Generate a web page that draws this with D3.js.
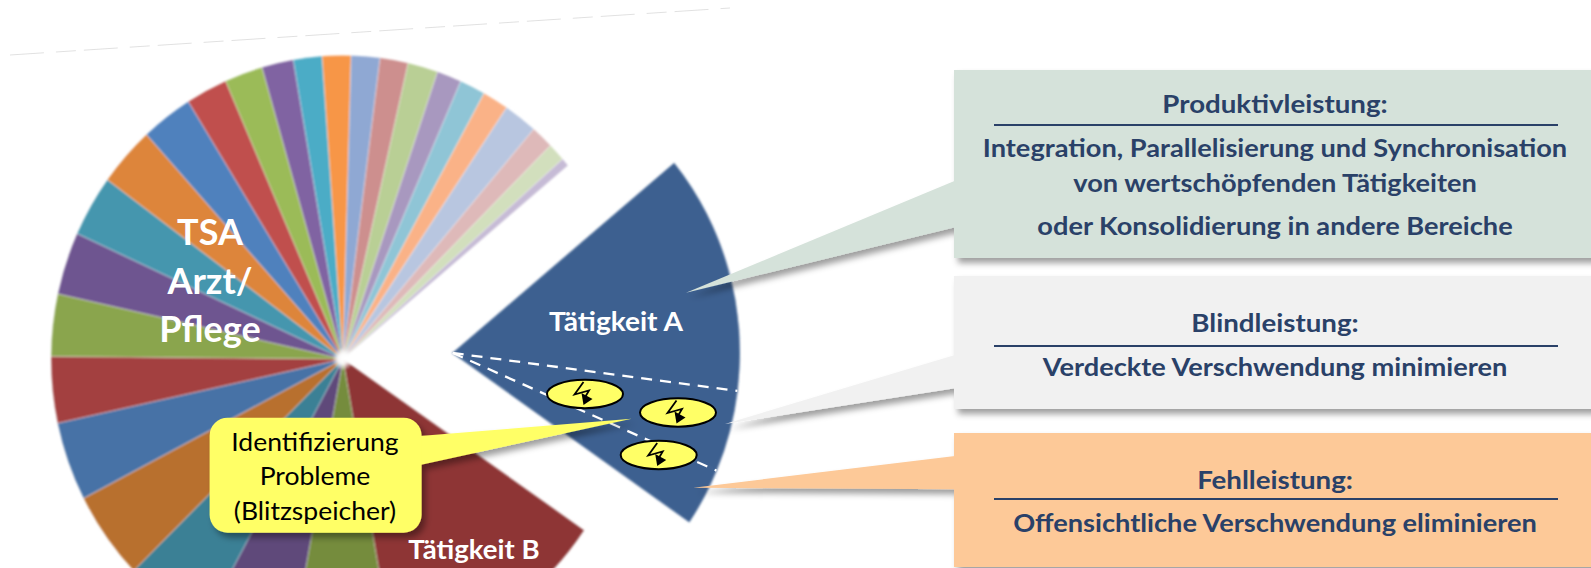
<!DOCTYPE html>
<html lang="de">
<head>
<meta charset="utf-8">
<title>Tätigkeiten und Leistungsarten</title>
<script src="https://cdnjs.cloudflare.com/ajax/libs/d3/7.8.5/d3.min.js"></script>
<style>
html,body{margin:0;padding:0;background:#fff;overflow:hidden}
svg{display:block}
text{font-family:Lato,"Open Sans",sans-serif}
</style>
</head>
<body>
<svg id="c" width="1591" height="568" viewBox="0 0 1591 568"></svg>
<script>
// Slice shares of the pie (degrees of arc)
const sliceNames = ["Tätigkeit B","s2","s3","s4","s5","s6","s7","s8","s9","s10","s11","s12","s13","s14","s15","s16","s17","s18","s19","s20","s21","s22","s23","s24","s25","s26","s27"];
const sliceValues = [45.7,20.5,18.2,17.1,16.9,15.1,12.7,11.9,12,11.8,11.5,10.3,8.3,7.6,6.3,5.7,5.7,5.7,5.6,6,4.9,5.1,5.2,6.7,4.5,3.5,1.6];
const sliceColors = ["#8e3636","#748c3e","#5f4a7a","#3a8095","#b8702e","#4672a6","#a34140","#8aa54e","#6e5590","#4596ae","#dd853a","#4f81bd","#c0504d","#9bbb59","#8064a2","#4bacc6","#f79646","#8fa8d3","#cd8f8e","#b9cf95","#a898bf","#8fc5d6","#fab287","#b8c6e0","#deb9b9","#d2dfbd","#c6bbd6"];
// Tätigkeit A is pulled out and split into three parts
const partNames = ["Produktivleistung","Blindleistung","Fehlleistung"];
const partValues = [46.8,15.9,11.3];
const partColor = "#3d6090";
const boxTitles = ["Produktivleistung:","Blindleistung:","Fehlleistung:"];
const boxBodies = [
  ["Integration, Parallelisierung und Synchronisation","von wertschöpfenden Tätigkeiten","oder Konsolidierung in andere Bereiche"],
  ["Verdeckte Verschwendung minimieren"],
  ["Offensichtliche Verschwendung eliminieren"]
];
const boxColors = ["#d5e2da","#f1f1f1","#fdc998"];
const pieLabel = ["TSA","Arzt/","Pflege"];
const calloutLines = ["Identifizierung","Probleme","(Blitzspeicher)"];

const rad = d => d * Math.PI / 180;
const svg = d3.select("#c");
const defs = svg.append("defs");
const blur = defs.append("filter").attr("id","soft").attr("x","-5%").attr("y","-5%").attr("width","110%").attr("height","110%");
blur.append("feGaussianBlur").attr("stdDeviation",0.8);
const shadow = defs.append("filter").attr("id","shadow").attr("x","-10%").attr("y","-20%").attr("width","125%").attr("height","150%");
shadow.append("feDropShadow").attr("dx",4).attr("dy",5).attr("stdDeviation",3).attr("flood-color","#000").attr("flood-opacity",0.38);
const hub = defs.append("radialGradient").attr("id","hub");
hub.append("stop").attr("offset","0%").attr("stop-color","#fff").attr("stop-opacity",1);
hub.append("stop").attr("offset","45%").attr("stop-color","#fff").attr("stop-opacity",0.9);
hub.append("stop").attr("offset","100%").attr("stop-color","#fff").attr("stop-opacity",0);

// Text drawn wider than the font's natural width, anchored on its centre
function label(parent, x, y, str, size, weight, fill, stretch) {
  return parent.append("text")
    .attr("transform",`translate(${x},${y}) scale(${stretch},1)`)
    .attr("text-anchor","middle").attr("font-size",size).attr("font-weight",weight)
    .attr("fill",fill).text(str);
}

// faint scan line at the top
svg.append("line").attr("x1",10).attr("y1",55).attr("x2",730).attr("y2",8)
  .attr("stroke","#bdbdbd").attr("stroke-width",1).attr("stroke-dasharray","34 12 20 8").attr("opacity",0.45);

// main pie
const squash = 1.04;
const pieGen = d3.pie().sort(null).startAngle(rad(124.3)).endAngle(rad(410.4));
const arcMain = d3.arc().innerRadius(0).outerRadius(292);
const pieG = svg.append("g").attr("transform",`translate(343,359) scale(1,${squash})`).attr("filter","url(#soft)");
pieG.selectAll("path").data(pieGen(sliceValues)).join("path")
  .attr("d",arcMain)
  .attr("fill",(d,i)=>sliceColors[i])
  .attr("stroke","rgba(255,255,255,0.4)").attr("stroke-width",0.8);
pieG.append("circle").attr("r",11).attr("fill","url(#hub)");

// exploded slice
const partGen = d3.pie().sort(null).startAngle(rad(50.5)).endAngle(rad(124.5));
const arcPart = d3.arc().innerRadius(0).outerRadius(287);
const partArcs = partGen(partValues);
const partG = svg.append("g").attr("transform",`translate(452.7,353) scale(1,${squash})`);
partG.append("g").attr("filter","url(#soft)").selectAll("path").data(partArcs).join("path")
  .attr("d",arcPart).attr("fill",partColor).attr("stroke",partColor).attr("stroke-width",0.6);
partG.selectAll("line").data(partArcs.slice(0,2)).join("line")
  .attr("x1",0).attr("y1",0)
  .attr("x2",d=>d3.pointRadial(d.endAngle,287)[0])
  .attr("y2",d=>d3.pointRadial(d.endAngle,287)[1])
  .attr("stroke","#fff").attr("stroke-width",2.2).attr("stroke-dasharray","11 8");

// problem markers
const markers = [[585,394],[678,412.5],[658.7,455]];
const flash = svg.append("g").selectAll("g").data(markers).join("g").attr("transform",d=>`translate(${d[0]},${d[1]})`);
flash.append("ellipse").attr("rx",38).attr("ry",14.2).attr("fill","#ffff66").attr("stroke","#000").attr("stroke-width",2);
flash.append("path").attr("d","M-1.5,-12 L-10.5,0.5 L4,-3.5 L-1,5").attr("fill","none").attr("stroke","#000").attr("stroke-width",1.8);
flash.append("path").attr("d","M-3.5,-1 L7.5,5 L-1.5,11 Z").attr("fill","#000");

// pointers + boxes
const boxesG = svg.append("g");
const boxRows = [
 {y:70,h:188,tip:[686,292.7],a:180.7,b:227.3},
 {y:276,h:133,tip:[725,424],a:355,b:388.3},
 {y:433,h:134,tip:[693.3,487.7],a:456,b:489.3}
];
const boxLeft = 954, boxW = 650;
boxRows.forEach((r,i)=>{
  const g = boxesG.append("g").attr("filter","url(#shadow)");
  g.append("polygon").attr("points",[r.tip,[boxLeft+1,r.a],[boxLeft+1,r.b]].join(" ")).attr("fill",boxColors[i]);
  g.append("rect").attr("x",boxLeft).attr("y",r.y).attr("width",boxW).attr("height",r.h).attr("fill",boxColors[i]);
});

const navy = "#2a4168";
const cx = 1275;
const textRows = [
 {t:113,rule:125,b:[157,192,235]},
 {t:332,rule:346,b:[376]},
 {t:489,rule:499,b:[532]}
];
textRows.forEach((r,i)=>{
  label(boxesG,cx,r.t,boxTitles[i],24.5,700,navy,1.13);
  boxesG.append("line").attr("x1",994).attr("x2",1558).attr("y1",r.rule).attr("y2",r.rule)
    .attr("stroke",navy).attr("stroke-width",2);
  boxBodies[i].forEach((s,j)=> label(boxesG,cx,r.b[j],s,24.5,700,navy,1.11));
});

// yellow callout
const call = svg.append("g");
const callShape = call.append("g").attr("filter","url(#shadow)");
callShape.append("polygon").attr("points","631.7,418.7 420,436 420,465").attr("fill","#ffff66");
callShape.append("rect").attr("x",209.6).attr("y",417.7).attr("width",212).attr("height",115).attr("rx",18).attr("fill","#ffff66");
const callY = [451,485,520];
calloutLines.forEach((s,i)=>label(call,315,callY[i],s,25.5,400,"#000",1.04));

// white labels
const tsaY = [245,294,342];
pieLabel.forEach((s,i)=>label(svg,210,tsaY[i],s,36,700,"#fff",1));
label(svg,616,331,"Tätigkeit A",26,700,"#fff",1.08);
label(svg,474,559,sliceNames[0],26,700,"#fff",1.06);
</script>
</body>
</html>
